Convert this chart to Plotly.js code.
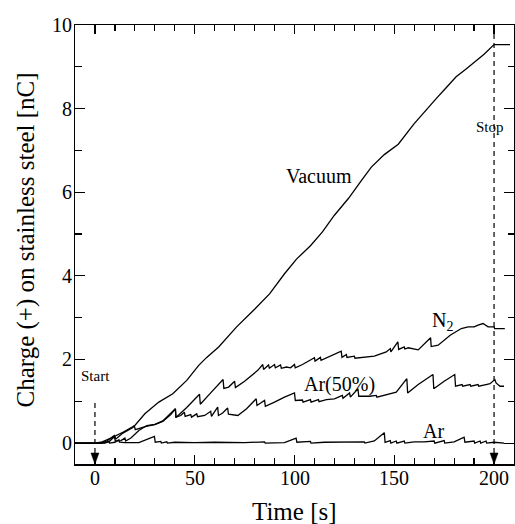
<!DOCTYPE html>
<html>
<head>
<meta charset="utf-8">
<script src="https://cdn.plot.ly/plotly-3.0.1.min.js"></script>
<style>html,body{margin:0;padding:0;background:#fff;}#chart{width:515px;height:524px;}</style>
</head>
<body>
<div id="chart"></div>
<script>
// Time [s] and charge [nC] for each condition
const vacuumT = [-10,0,3,8,14,20,25,32,39,46,52,56,62,71,80,87.5,95,101,108,114,120,127,133.5,138.5,145,152,160,165,171,176,181,186,190,195,200,208];
const vacuumQ = [0,0,0.02,0.12,0.26,0.42,0.7,0.98,1.18,1.5,1.86,2.05,2.3,2.78,3.2,3.57,4.05,4.4,4.72,5.05,5.45,5.85,6.28,6.6,6.9,7.15,7.64,7.92,8.24,8.5,8.76,8.95,9.11,9.3,9.53,9.53];

const n2T = [-10,3,6,9.7,10.5,14,19,19.7,20.2,25.6,30,34,38,40.3,40.6,46,52.4,52.8,58,64.2,64.6,67,70,70.4,75,81.6,84.1,84.5,87,87.4,90,90.4,93,93.4,96,98,100,100.4,104,109,110,110.3,113,113.3,117,123.4,123.8,126,126.3,130,130.3,136,140,146,148,148.3,151.8,152.2,155,155.3,157,162,168.2,168.5,172,178,183.6,187,190,192,194.5,197,200,200.3,205.4];
const n2Q = [0,0,0.05,0.18,0.1,0.24,0.37,0.42,0.32,0.4,0.44,0.52,0.68,0.82,0.61,0.85,1.17,0.93,1.2,1.52,1.31,1.34,1.48,1.33,1.48,1.74,1.88,1.76,1.87,1.79,1.88,1.8,1.87,1.79,1.82,1.8,1.88,1.8,1.88,2.02,2.04,1.96,2.05,1.98,2.06,2.2,2.05,2.12,2.05,2.08,2.03,2.06,2.08,2.18,2.26,2.18,2.42,2.24,2.3,2.25,2.28,2.23,2.52,2.31,2.34,2.58,2.74,2.78,2.78,2.82,2.86,2.78,2.78,2.74,2.74];

const ar50T = [-10,3,7,9.7,10.2,13,15,15.4,18,22,26,30,34,38,40.3,40.6,43,44.8,45.2,48,48.4,51,51.4,55,58,58.4,61.5,61.9,64,66.5,66.9,71.6,76,80.8,81.2,85,85.4,90,95,100,100.4,104,104.3,108,108.3,112,112.3,116,120,124,124.3,127.6,128,131.8,132.2,137.6,141,141.3,145,151,156.3,156.7,162,169.4,169.8,175,180.3,180.7,184,184.3,188,188.3,192,192.3,196,198,200.4,201,203,205];
const ar50Q = [0,0,0.03,0.15,0.05,0.06,0.12,0.05,0.12,0.3,0.42,0.45,0.53,0.7,0.82,0.62,0.66,0.74,0.64,0.68,0.62,0.7,0.63,0.66,0.76,0.64,0.86,0.66,0.72,0.84,0.69,0.66,0.82,1.06,0.9,1.02,0.88,0.98,1.1,1.2,1.02,1.03,0.98,1.04,0.98,1.04,0.99,1.04,1.06,1.14,1.07,1.2,1.1,1.3,1.12,1.12,1.14,1.1,1.14,1.22,1.54,1.2,1.4,1.64,1.3,1.48,1.64,1.36,1.4,1.36,1.4,1.36,1.4,1.36,1.4,1.42,1.52,1.44,1.36,1.36];

const arT = [-10,5,7,7.3,10,12,12.3,15,22,29.8,30.2,33,33.3,36,36.3,40,50,60,75,85,85.3,95,100.8,101.2,108,108.3,115,125,135,135.3,140,145,145.4,148,148.3,151,151.3,155,155.3,160,165,170,170.3,175,175.3,180,185,185.4,190,190.3,193,193.3,196,196.3,200,205];
const arQ = [0,0,0.04,0,0.02,0.08,0.02,0.01,0.01,0.16,0.02,0.04,0,0.03,0,0.02,0.01,0.02,0.01,0.03,0,0.01,0.12,0.02,0.04,0,0.02,0.02,0.03,0,0.05,0.25,0.02,0.06,0,0.05,0,0.05,0,0.03,0.03,0.05,0,0.06,0,0.03,0.14,0.02,0.05,0,0.05,0,0.05,0,0.02,0];

const xTicks = [0,50,100,150,200];
const yTicks = [0,2,4,6,8,10];
const xTitle = 'Time [s]';
const yTitle = 'Charge (+) on stainless steel [nC]';

const FONT = 'Liberation Serif';
const line = {color:'#000', width:1.3};

const traces = [
  {x:vacuumT, y:vacuumQ, name:'Vacuum'},
  {x:n2T, y:n2Q, name:'N2'},
  {x:ar50T, y:ar50Q, name:'Ar(50%)'},
  {x:arT, y:arQ, name:'Ar'}
].map(t => Object.assign(t, {type:'scatter', mode:'lines', line:line, hoverinfo:'skip'}));

function axisBase() {
  return {
    showgrid:false, zeroline:false, showline:true, linecolor:'#000', linewidth:1.5,
    mirror:'allticks', ticks:'inside', tickcolor:'#000', tickwidth:1.2,
    showticklabels:false
  };
}

const arrowPath = 'M -4 11 L 4 11 L 0 0 Z';
const txt = (size) => ({family:FONT, size:size, color:'#000'});

// Tick labels and axis titles as annotations anchored to the axes (serif rendering)
const tickAnnX = xTicks.map(v => ({x:v, xref:'x', y:0, yref:'paper', yanchor:'top', yshift:-1,
  text:String(v), showarrow:false, font:txt(20)}));
const tickAnnY = yTicks.map(v => ({x:0, xref:'paper', xanchor:'right', xshift:-1, y:v, yref:'y',
  text:String(v), showarrow:false, font:txt(20)}));

const layout = {
  width:515, height:524,
  margin:{l:75, r:1, t:25, b:60},
  paper_bgcolor:'#fff', plot_bgcolor:'#fff',
  showlegend:false,
  font:{family:FONT, color:'#000', size:20},
  xaxis: Object.assign(axisBase(), {
    range:[-10,210], tickvals:xTicks, ticklen:9,
    minor:{dtick:10, tick0:0, ticklen:6, ticks:'inside', tickcolor:'#000', tickwidth:1.2}
  }),
  yaxis: Object.assign(axisBase(), {
    range:[-0.5,10], tickvals:yTicks, ticklen:10,
    minor:{dtick:1, tick0:0, ticklen:6.5, ticks:'inside', tickcolor:'#000', tickwidth:1.2}
  }),
  shapes:[
    {type:'line', x0:0, x1:0, y0:0.96, y1:-0.3, line:{color:'#000', width:1.2, dash:'5px,4px'}},
    {type:'line', x0:200, x1:200, y0:10, y1:-0.3, line:{color:'#000', width:1.2, dash:'5px,4px'}},
    {type:'path', xref:'x', yref:'y', xsizemode:'pixel', ysizemode:'pixel', xanchor:0, yanchor:-0.5,
     path:arrowPath, fillcolor:'#000', line:{color:'#000', width:0.5}},
    {type:'path', xref:'x', yref:'y', xsizemode:'pixel', ysizemode:'pixel', xanchor:200, yanchor:-0.5,
     path:arrowPath, fillcolor:'#000', line:{color:'#000', width:0.5}}
  ],
  annotations: tickAnnX.concat(tickAnnY, [
    {x:0.5, xref:'paper', y:0, yref:'paper', yanchor:'middle', yshift:-47, text:xTitle, showarrow:false, font:txt(25)},
    {x:0, xref:'paper', xanchor:'center', xshift:-50, y:0.5, yref:'paper', yshift:4, textangle:-90,
     text:yTitle, showarrow:false, font:txt(25)},
    {x:112.5, y:6.39, text:'Vacuum', showarrow:false, font:txt(20)},
    {x:198.2, y:7.55, text:'Stop', showarrow:false, font:txt(15)},
    {x:0.15, y:1.6, text:'Start', showarrow:false, font:txt(15)},
    {x:174.3, y:2.9, text:'N<sub>2</sub>', showarrow:false, font:txt(20)},
    {x:122.7, y:1.40, text:'Ar(50%)', showarrow:false, font:txt(20)},
    {x:169.7, y:0.29, text:'Ar', showarrow:false, font:txt(20)}
  ])
};

Plotly.newPlot('chart', traces, layout, {staticPlot:true, displayModeBar:false});
</script>
</body>
</html>
